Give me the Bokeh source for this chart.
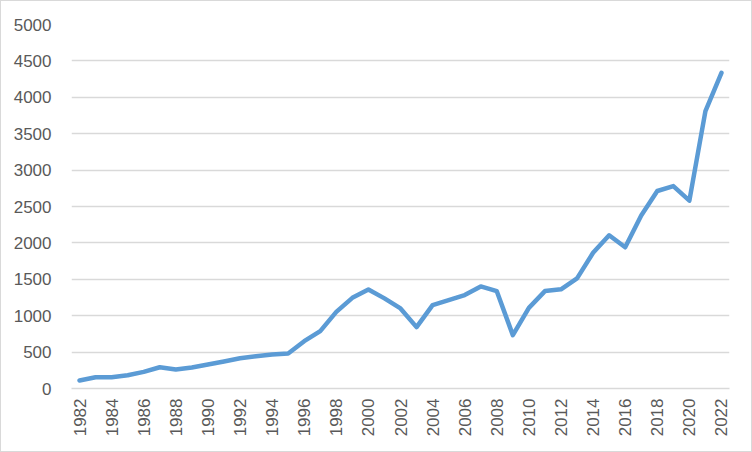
import math
from bokeh.plotting import figure
from bokeh.models import FixedTicker, Range1d
from bokeh.embed import file_html
from bokeh.resources import INLINE

years = list(range(1982, 2023))
values = [110, 155, 155, 183, 228, 292, 261, 289, 330, 370, 415, 444, 467, 481,
          650, 788, 1052, 1245, 1360, 1238, 1100, 843, 1146, 1213, 1284, 1402,
          1337, 733, 1107, 1338, 1362, 1513, 1864, 2105, 1940, 2375, 2713, 2780,
          2580, 3810, 4335]
y_ticks = list(range(0, 5001, 500))
x_ticks = list(range(1982, 2023, 2))

p = figure(width=752, height=452, output_backend="svg", toolbar_location=None,
           x_range=Range1d(1981.5, 2022.5), y_range=Range1d(0, 5000),
           min_border_left=70, min_border_right=24, min_border_top=23, min_border_bottom=65)
p.styles = {"border": "1px solid #d9d9d9", "box-sizing": "border-box"}
p.outline_line_color = None
p.background_fill_color = "white"
p.border_fill_color = "white"

p.line(years, values, line_color="#5b9bd5", line_width=4.5, line_join="round", line_cap="round")

font = "Liberation Sans"
p.yaxis.ticker = FixedTicker(ticks=y_ticks)
p.xaxis.ticker = FixedTicker(ticks=x_ticks)
p.xaxis.major_label_orientation = math.pi / 2
for ax in (p.xaxis, p.yaxis):
    ax.major_label_text_font = font
    ax.major_label_text_font_size = "17px"
    ax.major_label_text_color = "#595959"
    ax.major_tick_line_color = None
    ax.minor_tick_line_color = None
p.yaxis.axis_line_color = None
p.xaxis.axis_line_color = "#d9d9d9"
p.xaxis.axis_line_width = 1.5
p.yaxis.major_label_standoff = 14
p.xaxis.major_label_standoff = 4

p.xgrid.grid_line_color = None
p.ygrid.grid_line_color = "#d9d9d9"
p.ygrid.grid_line_width = 1.5

open("out.html", "w").write(file_html(p, INLINE))
